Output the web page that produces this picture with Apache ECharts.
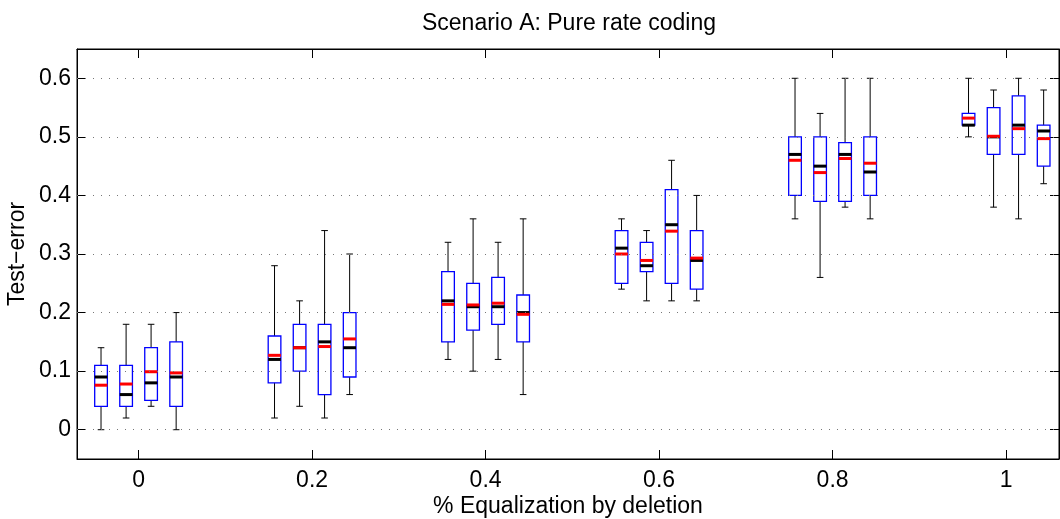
<!DOCTYPE html>
<html><head><meta charset="utf-8">
<script src="https://cdn.jsdelivr.net/npm/echarts@6/dist/echarts.min.js"></script>
<style>html,body{margin:0;padding:0;background:#fff}#c{width:1060px;height:519px}</style>
</head><body><div id="c"></div>
<script>
// ---- data ----
const groups = [0, 0.2, 0.4, 0.6, 0.8, 1];
const xTicks = [0, 0.2, 0.4, 0.6, 0.8, 1];
const yTicks = [0, 0.1, 0.2, 0.3, 0.4, 0.5, 0.6];
// 4 boxes per group, listed group by group
const lowerWhisker = [0, 0.02, 0.04, 0, 0.02, 0.04, 0.02, 0.06, 0.12, 0.10, 0.12, 0.06, 0.24, 0.22, 0.22, 0.22, 0.36, 0.26, 0.38, 0.36, 0.50, 0.38, 0.36, 0.42];
const q1 =           [0.04, 0.04, 0.05, 0.04, 0.08, 0.10, 0.06, 0.09, 0.15, 0.17, 0.18, 0.15, 0.25, 0.27, 0.25, 0.24, 0.40, 0.39, 0.39, 0.40, 0.52, 0.47, 0.47, 0.45];
const median =       [0.09, 0.06, 0.08, 0.09, 0.12, 0.14, 0.15, 0.14, 0.22, 0.21, 0.21, 0.20, 0.31, 0.28, 0.35, 0.289, 0.47, 0.45, 0.47, 0.44, 0.52, 0.50, 0.52, 0.51];
const q3 =           [0.11, 0.11, 0.14, 0.15, 0.16, 0.18, 0.18, 0.20, 0.27, 0.25, 0.26, 0.23, 0.34, 0.32, 0.41, 0.34, 0.50, 0.50, 0.49, 0.50, 0.54, 0.55, 0.57, 0.52];
const upperWhisker = [0.14, 0.18, 0.18, 0.20, 0.28, 0.22, 0.34, 0.30, 0.32, 0.36, 0.32, 0.36, 0.36, 0.34, 0.46, 0.40, 0.60, 0.54, 0.60, 0.60, 0.60, 0.58, 0.60, 0.58];
const mean =         [0.076, 0.078, 0.099, 0.097, 0.127, 0.14, 0.142, 0.155, 0.214, 0.213, 0.216, 0.197, 0.30, 0.289, 0.339, 0.293, 0.46, 0.439, 0.463, 0.455, 0.532, 0.501, 0.514, 0.497];

// ---- layout ----
const boxOffsets = [-0.0433, -0.0144, 0.0144, 0.0433];
const boxWidth = 0.0146;
const FONT = '"Liberation Sans", Arial, Helvetica, sans-serif';
const FS = 23;

const boxData = [];
groups.forEach((g, gi) => {
  boxOffsets.forEach((o, bi) => {
    const i = gi * 4 + bi;
    boxData.push([g + o, lowerWhisker[i], q1[i], median[i], q3[i], upperWhisker[i], mean[i]]);
  });
});

function renderItem(params, api) {
  const x = api.value(0);
  const cx = api.coord([x, 0])[0];
  const half = api.size([boxWidth, 0])[0] / 2;
  const y = v => api.coord([x, v])[1];
  const capHalf = 3.3;
  const yLw = y(api.value(1)), yQ1 = y(api.value(2)), yMd = y(api.value(3)),
        yQ3 = y(api.value(4)), yUw = y(api.value(5)), yMn = y(api.value(6));
  const L = (x1, y1, x2, y2, color, w) => ({
    type: 'line', shape: { x1, y1, x2, y2 },
    style: { stroke: color, lineWidth: w, fill: null }
  });
  return {
    type: 'group',
    children: [
      L(cx, yQ3, cx, yUw, '#000', 1),
      L(cx, yQ1, cx, yLw, '#000', 1),
      L(cx - capHalf, yUw, cx + capHalf, yUw, '#000', 1),
      L(cx - capHalf, yLw, cx + capHalf, yLw, '#000', 1),
      { type: 'rect', shape: { x: cx - half, y: yQ3, width: 2 * half, height: yQ1 - yQ3 },
        style: { fill: null, stroke: '#0000ff', lineWidth: 1.3 } },
      L(cx - half, yMd, cx + half, yMd, '#000', 3),
      L(cx - half, yMn, cx + half, yMn, '#ff0000', 3)
    ]
  };
}

const axisBlack = { show: true, onZero: false, lineStyle: { color: '#000', width: 1 } };
const chart = echarts.init(document.getElementById('c'), null, { renderer: 'canvas' });
chart.setOption({
  animation: false,
  backgroundColor: '#fff',
  textStyle: { fontFamily: FONT },
  title: {
    text: 'Scenario A: Pure rate coding',
    left: 564, top: 7, textAlign: 'center',
    textStyle: { fontFamily: FONT, fontSize: FS, fontWeight: 'normal', color: '#000' }
  },
  grid: { left: 77, right: 1, top: 49, bottom: 60, show: true, borderColor: '#000', borderWidth: 1,
    containLabel: false, outerBoundsMode: 'none' },
  xAxis: [{
    type: 'value', min: -0.071, max: 1.061, position: 'bottom',
    axisLine: axisBlack,
    axisTick: { show: true, inside: true, length: 9, customValues: xTicks, lineStyle: { color: '#000' } },
    axisLabel: { customValues: xTicks, color: '#000', fontSize: FS, fontFamily: FONT, margin: 10,
      formatter: v => String(+v.toFixed(2)) },
    splitLine: { show: false },
    name: '% Equalization by deletion', nameLocation: 'middle', nameGap: 36, nameMoveOverlap: false,
    nameTextStyle: { color: '#000', fontSize: FS, fontFamily: FONT }
  }, {
    type: 'value', min: -0.071, max: 1.061, position: 'top',
    axisLine: axisBlack,
    axisTick: { show: true, inside: true, length: 9, customValues: xTicks, lineStyle: { color: '#000' } },
    axisLabel: { show: false }, splitLine: { show: false }
  }],
  yAxis: [{
    type: 'value', min: -0.05, max: 0.65, position: 'left',
    axisLine: axisBlack,
    axisTick: { show: true, inside: true, length: 9, customValues: yTicks, lineStyle: { color: '#000' } },
    axisLabel: { customValues: yTicks, color: '#000', fontSize: FS, fontFamily: FONT, margin: 6,
      formatter: v => String(+v.toFixed(2)) },
    splitLine: { show: false },
    name: 'Test\u2212error', nameLocation: 'middle', nameGap: 48, nameRotate: 90, nameMoveOverlap: false,
    nameTextStyle: { color: '#000', fontSize: FS, fontFamily: FONT }
  }, {
    type: 'value', min: -0.05, max: 0.65, position: 'right',
    axisLine: axisBlack,
    axisTick: { show: true, inside: true, length: 9, customValues: yTicks, lineStyle: { color: '#000' } },
    axisLabel: { show: false }, splitLine: { show: false }
  }],
  series: [{
    type: 'custom',
    xAxisIndex: 0, yAxisIndex: 0,
    renderItem,
    data: boxData,
    clip: false,
    markLine: {
      silent: true, symbol: 'none', animation: false,
      label: { show: false },
      lineStyle: { color: '#777', type: [1, 7], width: 1 },
      data: yTicks.map(v => ({ yAxis: v }))
    }
  }]
});
</script>
</body></html>
